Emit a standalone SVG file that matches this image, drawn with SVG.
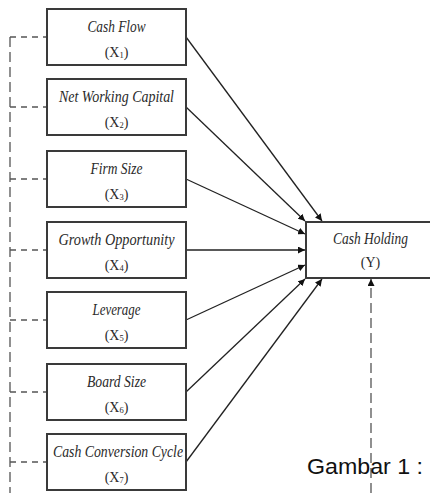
<svg xmlns="http://www.w3.org/2000/svg" width="430" height="493" viewBox="0 0 430 493">
<style>
.box{fill:#fff;stroke:#3a3a3a;stroke-width:2}
.t{font-family:"Liberation Serif",serif;font-style:italic;font-size:16px;fill:#2a2a2a;text-anchor:middle}
.s{font-family:"Liberation Serif",serif;font-size:14px;fill:#2a2a2a;text-anchor:middle}
.sub{font-size:8.5px}
.arr{stroke:#222;stroke-width:1.3;fill:none;marker-end:url(#ah)}
.dh{stroke:#555;stroke-width:1.6;stroke-dasharray:6 5;fill:none}
.dv{stroke:#555;stroke-width:1.3;stroke-dasharray:10 5;fill:none}
</style>
<defs>
<marker id="ah" viewBox="0 0 10 10" refX="10" refY="5" markerWidth="7" markerHeight="7" markerUnits="userSpaceOnUse" orient="auto">
<path d="M0,0 L10,5 L0,10 z" fill="#111"/>
</marker>
</defs>
<g id="connectors">
<path class="dv" d="M10,37 V493"/>
<path class="dh" d="M10,37 H47 M10,107 H47 M10,179 H47 M10,250 H47 M10,320 H47 M10,392 H47 M10,462 H47"/>
<path class="arr" d="M186,37 L322,221"/>
<path class="arr" d="M186,107 L305,221"/>
<path class="arr" d="M186,179 L305,234"/>
<path class="arr" d="M186,250 L305,250"/>
<path class="arr" d="M186,320 L305,265"/>
<path class="arr" d="M186,392 L305,279"/>
<path class="arr" d="M186,462 L322,279"/>
<path class="dv" d="M371,493 V279" style="marker-end:url(#ah)"/>
</g>
<g id="x1"><rect class="box" x="47" y="9" width="139" height="56"/><text class="t" x="116.5" y="32" textLength="58" lengthAdjust="spacingAndGlyphs">Cash Flow</text><text class="s" x="116.5" y="57">(X<tspan class="sub" dy="1">1</tspan><tspan dy="-1">)</tspan></text></g>
<g id="x2"><rect class="box" x="47" y="79" width="139" height="56"/><text class="t" x="116.5" y="102" textLength="115" lengthAdjust="spacingAndGlyphs">Net Working Capital</text><text class="s" x="116.5" y="127">(X<tspan class="sub" dy="1">2</tspan><tspan dy="-1">)</tspan></text></g>
<g id="x3"><rect class="box" x="47" y="151" width="139" height="56"/><text class="t" x="116.5" y="174" textLength="52" lengthAdjust="spacingAndGlyphs">Firm Size</text><text class="s" x="116.5" y="199">(X<tspan class="sub" dy="1">3</tspan><tspan dy="-1">)</tspan></text></g>
<g id="x4"><rect class="box" x="47" y="222" width="139" height="56"/><text class="t" x="116.5" y="245" textLength="116" lengthAdjust="spacingAndGlyphs">Growth Opportunity</text><text class="s" x="116.5" y="270">(X<tspan class="sub" dy="1">4</tspan><tspan dy="-1">)</tspan></text></g>
<g id="x5"><rect class="box" x="47" y="292" width="139" height="56"/><text class="t" x="116.5" y="315" textLength="48" lengthAdjust="spacingAndGlyphs">Leverage</text><text class="s" x="116.5" y="340">(X<tspan class="sub" dy="1">5</tspan><tspan dy="-1">)</tspan></text></g>
<g id="x6"><rect class="box" x="47" y="364" width="139" height="56"/><text class="t" x="116.5" y="387" textLength="59" lengthAdjust="spacingAndGlyphs">Board Size</text><text class="s" x="116.5" y="412">(X<tspan class="sub" dy="1">6</tspan><tspan dy="-1">)</tspan></text></g>
<g id="x7"><rect class="box" x="47" y="434" width="139" height="56"/><text class="t" x="118" y="457" textLength="130" lengthAdjust="spacingAndGlyphs">Cash Conversion Cycle</text><text class="s" x="116.5" y="482">(X<tspan class="sub" dy="1">7</tspan><tspan dy="-1">)</tspan></text></g>
<g id="y"><rect class="box" x="306" y="222" width="140" height="56"/><text class="t" x="370.5" y="244" textLength="75" lengthAdjust="spacingAndGlyphs">Cash Holding</text><text class="s" x="370.5" y="267">(Y)</text></g>
<text x="307" y="474" font-family="'Liberation Sans',Arial,sans-serif" font-size="22.5" fill="#111" textLength="116" lengthAdjust="spacingAndGlyphs">Gambar 1 :</text>
</svg>
